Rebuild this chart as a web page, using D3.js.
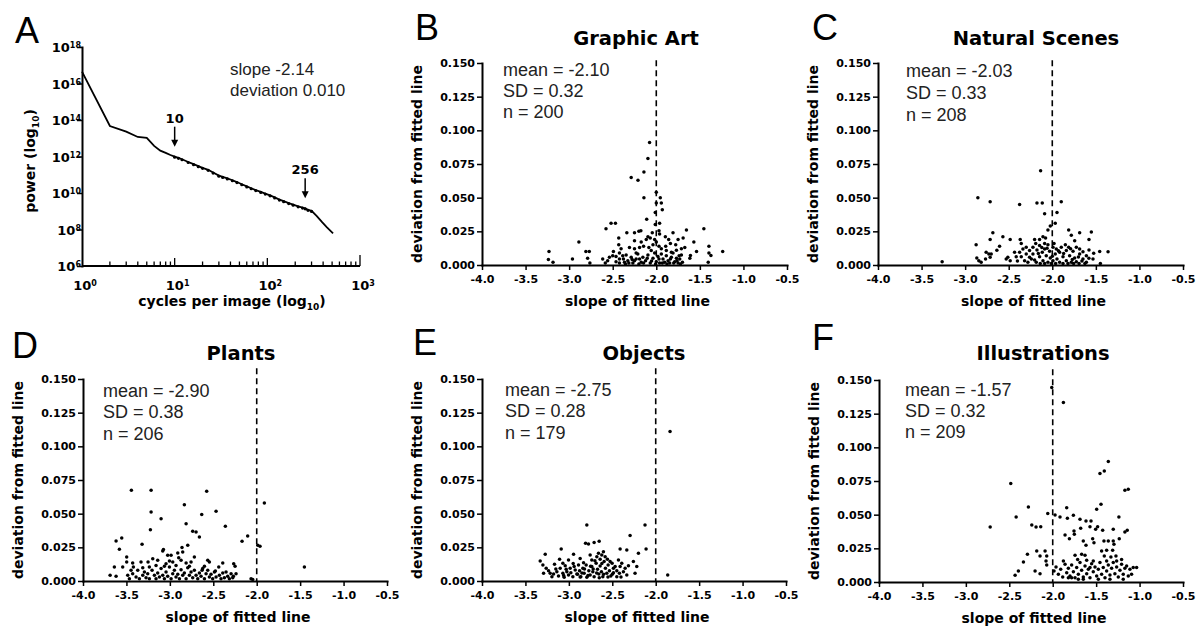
<!DOCTYPE html>
<html>
<head>
<meta charset="utf-8">
<script src="https://cdn.jsdelivr.net/npm/d3@7"></script>
<style>
  body { margin: 0; background: #fff; }
</style>
</head>
<body>
<svg id="fig" width="1199" height="628"></svg>
<script>
// ---- panel A: power spectrum, [cycles per image, log10 power]
const spectrum = [[1,16.65],[2,13.67],[3,13.36],[4,13.07],[5,13.02],[6,12.58],[7,12.32],[8,12.2],[9,12.08],
  [10,11.99],[11,11.93],[12,11.85],[14,11.7],[16,11.58],[18,11.47],[20,11.38],[23,11.27],[26,11.12],[30,10.95],
  [33,10.88],[37,10.8],[42,10.7],[47,10.6],[53,10.48],[60,10.36],[67,10.26],[75,10.16],[85,10.06],[95,9.97],
  [107,9.87],[120,9.76],[135,9.64],[150,9.55],[170,9.45],[190,9.36],[215,9.27],[240,9.2],[256,9.16],[275,9.08],
  [300,9.02],[340,8.75],[390,8.4],[440,8.12],[512,7.79]];
const powerExponents = [6, 8, 10, 12, 14, 16, 18];
const freqExponents = [0, 1, 2, 3];
const fitSlope = -2.14;
const fitDeviation = 0.010;
const markedFreqs = [10, 256];

// ---- panels B-F: [slope of fitted line, deviation from fitted line]
const panelNames = ['Graphic Art', 'Natural Scenes', 'Plants', 'Objects', 'Illustrations'];
const means = [-2.10, -2.03, -2.90, -2.75, -1.57];
const sds = [0.32, 0.33, 0.38, 0.28, 0.32];
const counts = [200, 208, 206, 179, 209];
const slopeTicks = [-4.0, -3.5, -3.0, -2.5, -2.0, -1.5, -1.0, -0.5];
const devTicks = [0, 0.025, 0.05, 0.075, 0.1, 0.125, 0.15];

const graphicArt = [
  [-2.077,0.091],[-2.096,0.079],[-2.142,0.069],[-2.288,0.065],[-2.210,0.063],[-2.142,0.050],[-1.954,0.050],
  [-1.942,0.046],[-1.931,0.041],[-2.000,0.054],[-2.000,0.046],[-2.012,0.039],[-2.110,0.034],[-2.012,0.030],
  [-1.962,0.031],[-2.577,0.027],[-2.519,0.031],[-2.469,0.031],[-2.338,0.024],[-2.250,0.024],[-2.200,0.025],
  [-2.177,0.0255],[-2.046,0.024],[-1.969,0.0255],[-1.962,0.023],[-1.896,0.021],[-1.808,0.024],[-1.654,0.026],
  [-1.454,0.027],[-2.431,0.020],[-2.096,0.021],[-2.019,0.019],[-1.858,0.019],[-1.750,0.019],[-1.692,0.020],
  [-1.569,0.017],[-2.888,0.017],[-2.250,0.018],[-2.173,0.017],[-2.115,0.019],[-2.069,0.020],[-2.431,0.015],
  [-2.404,0.012],[-2.492,0.010],[-2.423,0.009],[-2.308,0.013],[-2.250,0.012],[-2.192,0.013],[-2.146,0.014],
  [-2.085,0.013],[-2.038,0.015],[-2.000,0.017],[-1.969,0.014],[-1.942,0.012],[-1.892,0.014],[-1.838,0.016],
  [-1.777,0.015],[-1.769,0.011],[-1.712,0.012],[-1.673,0.013],[-1.608,0.007],[-1.615,0.005],[-1.538,0.010],
  [-2.808,0.010],[-2.769,0.010],[-3.231,0.010],[-1.396,0.014],[-1.396,0.009],[-1.373,0.007],[-1.238,0.010],
  [-1.404,0.002],[-3.238,0.004],[-3.185,0.002],[-2.962,0.0045],[-2.788,0.005],[-2.762,0.0015],[-2.615,0.0045],
  [-2.585,0.0015],[-2.538,0.0057],[-2.500,0.0069],[-2.558,0.0032],[-2.462,0.0025],[-2.423,0.0045],[-2.385,0.0069],
  [-2.365,0.002],[-2.327,0.0032],[-2.288,0.0057],[-2.269,0.0015],[-2.231,0.0045],[-2.212,0.0082],[-2.173,0.002],
  [-2.154,0.0057],[-2.123,0.0032],[-2.096,0.0074],[-2.069,0.0015],[-2.038,0.005],[-2.019,0.0089],[-2.000,0.0025],
  [-1.981,0.0064],[-1.962,0.0015],[-1.942,0.0082],[-1.923,0.0045],[-1.904,0.002],[-1.885,0.0069],[-1.865,0.0032],
  [-1.846,0.0015],[-1.827,0.0057],[-1.808,0.0089],[-1.788,0.0025],[-1.769,0.005],[-1.750,0.0015],[-1.731,0.0045],
  [-1.712,0.0074],[-1.700,0.002],[-2.231,0.0089],[-2.346,0.0074],[-2.462,0.0064],[-2.058,0.0107],[-1.885,0.0107],
  [-1.827,0.0094],[-2.377,0.0045],[-2.315,0.0015],[-2.250,0.0032],[-2.200,0.0007],[-2.146,0.0015],[-2.104,0.005],
  [-2.054,0.003],[-2.008,0.0007],[-1.969,0.0045],[-1.931,0.0015],[-1.877,0.0007],[-1.838,0.0045],[-1.800,0.0015],
  [-1.762,0.0032],[-1.723,0.0007],[-1.738,0.0069],[-2.192,0.0045],[-2.277,0.004],[-2.354,0.0007],[-2.423,0.0015]
];

const naturalScenes = [
  [-2.134,0.070],[-2.854,0.050],[-2.713,0.047],[-2.375,0.045],[-2.176,0.046],[-2.115,0.046],[-1.897,0.047],
  [-2.088,0.038],[-1.946,0.039],[-1.966,0.031],[-2.023,0.029],[-2.050,0.026],[-2.682,0.024],[-1.812,0.026],
  [-1.686,0.024],[-1.552,0.0245],[-2.567,0.021],[-2.713,0.019],[-2.483,0.019],[-2.368,0.019],[-2.356,0.016],
  [-2.203,0.019],[-2.146,0.019],[-2.107,0.021],[-2.077,0.020],[-2.088,0.016],[-1.782,0.022],[-1.743,0.018],
  [-1.579,0.019],[-2.874,0.015],[-2.605,0.014],[-2.636,0.011],[-2.759,0.0094],[-2.728,0.0082],[-2.701,0.0082],
  [-2.866,0.0052],[-2.843,0.0032],[-2.816,0.002],[-2.766,0.0045],[-2.713,0.0057],[-3.264,0.0025],[-1.456,0.010],
  [-1.360,0.0099],[-1.448,0.0012],[-1.525,0.0087],[-1.533,0.0045],[-2.529,0.0045],[-2.510,0.0057],[-2.483,0.0032],
  [-2.414,0.0062],[-2.375,0.0094],[-2.337,0.0119],[-2.299,0.0082],[-2.299,0.0131],[-2.261,0.0107],[-2.261,0.0057],
  [-2.222,0.0131],[-2.222,0.0082],[-2.203,0.0037],[-2.176,0.0111],[-2.146,0.0144],[-2.146,0.0062],[-2.115,0.0094],
  [-2.107,0.0032],[-2.088,0.0119],[-2.069,0.0069],[-2.050,0.002],[-2.031,0.0102],[-2.023,0.0052],[-1.992,0.0131],
  [-1.992,0.0032],[-1.966,0.0082],[-1.954,0.0119],[-1.946,0.0045],[-1.916,0.0094],[-1.916,0.002],[-1.897,0.0131],
  [-1.877,0.0062],[-1.839,0.0107],[-1.839,0.0032],[-1.812,0.0131],[-1.801,0.0069],[-1.782,0.002],[-1.762,0.0102],
  [-1.743,0.0052],[-1.724,0.0131],[-1.724,0.0025],[-1.686,0.0082],[-1.686,0.0119],[-1.648,0.0045],[-1.648,0.0099],
  [-1.609,0.0069],[-1.609,0.002],[-1.579,0.0111],[-2.184,0.002],[-2.138,0.0012],[-2.088,0.0012],[-2.011,0.0012],
  [-1.962,0.0012],[-1.877,0.0012],[-1.820,0.0012],[-1.755,0.0012],[-1.693,0.0012],[-1.626,0.0012],[-2.318,0.0032],
  [-2.356,0.0062],[-2.433,0.0094],[-2.24,0.0045],[-2.16,0.0085],[-2.06,0.0125],[-2.00,0.0065],[-1.93,0.0105],
  [-1.87,0.0085],[-1.79,0.0120],[-1.77,0.0040],[-1.70,0.0060],[-1.66,0.0030],[-1.98,0.0160],[-2.05,0.0150],
  [-2.12,0.0130],[-1.85,0.0150],[-2.28,0.0020],[-2.40,0.0030],[-1.58,0.0050],[-2.19,0.0160]
];

const plants = [
  [-3.443,0.0674],[-3.216,0.0674],[-2.576,0.0666],[-3.216,0.0513],[-2.833,0.0567],[-3.101,0.0463],[-2.633,0.0493],
  [-2.468,0.0518],[-1.912,0.058],[-2.813,0.0426],[-2.361,0.0406],[-2.737,0.0369],[-2.698,0.0364],[-2.660,0.0327],
  [-3.224,0.0381],[-3.619,0.0297],[-3.554,0.032],[-3.581,0.0235],[-3.320,0.0272],[-2.794,0.0265],[-2.169,0.0295],
  [-2.104,0.0334],[-1.988,0.0265],[-1.962,0.0258],[-1.451,0.0104],[-3.082,0.0223],[-3.074,0.0233],[-2.852,0.0215],
  [-2.909,0.0208],[-2.860,0.0248],[-2.898,0.0173],[-3.497,0.0178],[-3.497,0.0141],[-3.543,0.0104],[-3.639,0.0104],
  [-3.619,0.0035],[-3.688,0.0042],[-3.428,0.0134],[-3.420,0.0104],[-3.332,0.0141],[-3.251,0.0141],[-3.197,0.0166],
  [-2.986,0.0191],[-3.005,0.0149],[-3.063,0.0109],[-2.718,0.0178],[-2.756,0.0141],[-2.775,0.0109],[-2.564,0.0154],
  [-2.545,0.0141],[-2.602,0.0109],[-2.629,0.0079],[-2.391,0.0134],[-2.437,0.0104],[-2.476,0.0074],[-2.353,0.0067],
  [-2.265,0.0129],[-2.249,0.0109],[-2.238,0.0054],[-2.269,0.0035],[-2.065,0.0017],[-2.046,0.0012],
  [-3.485,0.0042],[-3.466,0.0017],[-3.428,0.0054],[-3.389,0.0030],[-3.351,0.0017],[-3.312,0.0042],[-3.293,0.0067],
  [-3.274,0.0025],[-3.255,0.0054],[-3.236,0.0017],[-3.205,0.0079],[-3.178,0.0042],[-3.159,0.0017],[-3.140,0.0059],
  [-3.120,0.0030],[-3.101,0.0092],[-3.082,0.0042],[-3.063,0.0017],[-3.044,0.0067],[-3.025,0.0035],[-3.005,0.0104],
  [-2.986,0.0017],[-2.967,0.0054],[-2.948,0.0079],[-2.929,0.0030],[-2.909,0.0050],[-2.890,0.0017],[-2.871,0.0084],
  [-2.852,0.0042],[-2.833,0.0059],[-2.813,0.0017],[-2.794,0.0099],[-2.775,0.0042],[-2.756,0.0067],[-2.737,0.0025],
  [-2.718,0.0079],[-2.698,0.0042],[-2.679,0.0017],[-2.660,0.0059],[-2.641,0.0035],[-2.622,0.0092],[-2.602,0.0017],
  [-2.583,0.0054],[-2.564,0.0079],[-2.545,0.0030],[-2.526,0.0050],[-2.507,0.0017],[-2.487,0.0067],[-2.468,0.0030],
  [-2.430,0.0042],[-2.411,0.0017],[-2.391,0.0059],[-2.372,0.0025],[-2.334,0.0035],[-2.315,0.0017],[-2.295,0.0054],
  [-2.276,0.0025],[-3.236,0.0104],[-3.159,0.0116],[-3.044,0.0129],[-2.929,0.0116],[-2.813,0.0134],[-2.967,0.0141],
  [-2.871,0.0154],[-3.025,0.0191],[-3.312,0.0099],[-3.370,0.0079],[-3.447,0.0079],[-3.140,0.0154]
];

const objects = [
  [-1.835,0.111],[-1.862,0.0045],[-2.793,0.0416],[-2.123,0.0416],[-2.295,0.0337],[-2.111,0.0238],[-2.808,0.028],
  [-2.774,0.0275],[-2.709,0.0285],[-2.651,0.0295],[-3.088,0.0238],[-3.272,0.0198],[-2.946,0.0198],[-2.410,0.0238],
  [-2.333,0.023],[-2.199,0.0206],[-3.330,0.0149],[-3.299,0.0119],[-3.261,0.0094],[-3.291,0.0057],[-3.215,0.0057],
  [-3.195,0.0032],[-3.165,0.0124],[-3.107,0.0161],[-3.042,0.0114],[-2.985,0.0094],[-3.023,0.0069],[-2.927,0.0082],
  [-2.889,0.0119],[-2.831,0.0136],[-2.755,0.0193],[-2.678,0.0181],[-2.621,0.0193],[-2.582,0.0181],[-2.556,0.0161],
  [-2.238,0.0057],[-2.218,0.0107],[-2.257,0.0144],[-2.314,0.0114],[-2.429,0.0156],[-2.487,0.0094],[-2.418,0.0057],
  [-2.448,0.0032],[-2.333,0.0045],[-3.234,0.0077],[-3.176,0.0052],[-3.138,0.0069],[-3.119,0.0037],[-3.100,0.0094],
  [-3.069,0.0057],[-3.054,0.0027],[-3.031,0.0087],[-3.004,0.0045],[-2.977,0.0062],[-2.954,0.0032],[-2.939,0.0107],
  [-2.908,0.0052],[-2.877,0.0077],[-2.862,0.0032],[-2.839,0.0094],[-2.824,0.0057],[-2.801,0.0119],[-2.793,0.0027],
  [-2.770,0.0077],[-2.755,0.0045],[-2.736,0.0107],[-2.724,0.0069],[-2.709,0.0032],[-2.686,0.0131],[-2.670,0.0087],
  [-2.655,0.0052],[-2.640,0.0111],[-2.625,0.0069],[-2.609,0.0032],[-2.594,0.0144],[-2.579,0.0094],[-2.563,0.0057],
  [-2.548,0.0119],[-2.533,0.0077],[-2.517,0.0037],[-2.502,0.0131],[-2.487,0.0062],[-2.467,0.0107],[-2.448,0.0077],
  [-2.410,0.0107],[-2.391,0.0131],[-2.372,0.0069],[-2.352,0.0094],[-3.069,0.0131],[-3.004,0.0156],[-2.870,0.0168],
  [-2.736,0.0156],[-2.640,0.0161],[-2.525,0.0144],[-2.659,0.0206],[-2.602,0.0218],[-2.90,0.0050],[-2.85,0.0060],
  [-2.78,0.0040],[-2.72,0.0090],[-2.68,0.0060],[-2.60,0.0050],[-2.55,0.0030],[-2.75,0.0110],[-2.95,0.0130],
  [-3.06,0.0040],[-2.82,0.0090],[-2.62,0.0130],[-2.70,0.0150],[-2.50,0.0050],[-2.40,0.0030],[-3.15,0.0090],
  [-2.87,0.0030],[-2.65,0.0025]
];

const illustrations = [
  [-2.011,0.1444],[-1.877,0.1333],[-1.360,0.0894],[-1.406,0.0825],[-1.456,0.0805],[-1.169,0.0681],[-1.130,0.0689],
  [-2.483,0.0731],[-2.720,0.0409],[-2.280,0.0557],[-2.421,0.0483],[-2.057,0.0508],[-1.973,0.0498],[-1.916,0.0483],
  [-1.839,0.0552],[-1.762,0.0495],[-1.831,0.0473],[-1.686,0.0466],[-1.617,0.0453],[-1.559,0.0453],[-1.444,0.0577],
  [-1.494,0.0540],[-1.238,0.0483],[-2.241,0.0424],[-2.192,0.0409],[-2.138,0.0411],[-1.858,0.0349],[-1.808,0.0322],
  [-1.755,0.0379],[-1.751,0.0354],[-1.678,0.0399],[-1.571,0.0411],[-1.506,0.0391],[-1.483,0.0411],[-1.425,0.0384],
  [-1.303,0.0391],[-1.169,0.0372],[-1.142,0.0384],[-1.234,0.0322],[-1.303,0.0305],[-1.295,0.0280],[-1.410,0.0305],
  [-1.360,0.0305],[-1.648,0.0305],[-1.617,0.0272],[-1.540,0.0322],[-1.525,0.0292],[-1.667,0.0206],[-1.628,0.0198],
  [-1.743,0.0198],[-1.713,0.0168],[-1.609,0.0161],[-1.437,0.0230],[-1.379,0.0235],[-1.310,0.0235],[-1.406,0.0193],
  [-1.330,0.0186],[-1.272,0.0193],[-2.291,0.0206],[-2.184,0.0230],[-2.337,0.0149],[-2.395,0.0082],[-2.433,0.0050],
  [-2.088,0.0230],[-2.069,0.0193],[-2.077,0.0156],[-2.069,0.0126],[-2.146,0.0193],[-2.203,0.0082],[-2.146,0.0062],
  [-1.985,0.0082],[-1.962,0.0111],[-1.935,0.0057],[-1.908,0.0094],[-1.885,0.0037],[-1.858,0.0131],[-1.839,0.0069],
  [-1.820,0.0102],[-1.801,0.0045],[-1.782,0.0126],[-1.762,0.0077],[-1.743,0.0032],[-1.724,0.0107],[-1.705,0.0057],
  [-1.686,0.0144],[-1.667,0.0087],[-1.648,0.0037],[-1.628,0.0119],[-1.609,0.0062],[-1.590,0.0094],[-1.571,0.0032],
  [-1.552,0.0136],[-1.533,0.0077],[-1.513,0.0111],[-1.494,0.0045],[-1.475,0.0094],[-1.456,0.0144],[-1.437,0.0057],
  [-1.418,0.0107],[-1.398,0.0032],[-1.379,0.0082],[-1.360,0.0126],[-1.341,0.0052],[-1.322,0.0102],[-1.303,0.0144],
  [-1.284,0.0062],[-1.264,0.0111],[-1.245,0.0037],[-1.226,0.0087],[-1.207,0.0131],[-1.188,0.0057],[-1.169,0.0102],
  [-1.149,0.0119],[-1.130,0.0045],[-1.111,0.0094],[-1.092,0.0057],[-1.073,0.0107],[-1.034,0.0107],[-1.533,0.0156],
  [-1.379,0.0156],[-1.264,0.0156],[-1.207,0.0168],[-1.877,0.0156],[-1.782,0.0032],[-1.571,0.0107],[-1.475,0.0020],
  [-1.341,0.0020],[-1.648,0.0020],[-1.705,0.0020],[-1.188,0.0020],[-1.820,0.0032]
];

const scatterData = [graphicArt, naturalScenes, plants, objects, illustrations];

// panel placement on the page
const layout = [
  { left: 482, right: 787, top: 63, bottom: 265, dashTop: 0.152, letter: 'B', lx: 415, ly: 40, tx: 636, ty: 45, sx: 503, sy: [76, 97, 118] },
  { left: 878, right: 1183, top: 63, bottom: 265, dashTop: 0.152, letter: 'C', lx: 812, ly: 40, tx: 1036, ty: 45, sx: 906, sy: [77, 99, 121] },
  { left: 83, right: 387, top: 379, bottom: 581, dashTop: 0.158, letter: 'D', lx: 12, ly: 358, tx: 241, ty: 360, sx: 103, sy: [397, 418, 440] },
  { left: 482, right: 786, top: 379, bottom: 581, dashTop: 0.158, letter: 'E', lx: 413, ly: 355, tx: 644, ty: 360, sx: 505, sy: [396, 417, 439] },
  { left: 879, right: 1183, top: 380, bottom: 582, dashTop: 0.158, letter: 'F', lx: 812, ly: 350, tx: 1043, ty: 360, sx: 905, sy: [396, 417, 438] }
];

const boldFont = '"DejaVu Sans", sans-serif';
const plainFont = '"Liberation Sans", Arial, sans-serif';

const svg = d3.select('#fig');
svg.append('rect').attr('width', 1199).attr('height', 628).attr('fill', '#fff');

function letter(x, y, s) {
  svg.append('text').attr('x', x).attr('y', y).text(s)
    .attr('fill', '#000')
    .style('font-family', plainFont).style('font-size', '36px');
}

function boldText(g, s, size) {
  return g.append('text').text(s).attr('fill', '#000')
    .style('font-family', boldFont).style('font-weight', 'bold').style('font-size', size + 'px');
}

// ---------------- panel A ----------------
function renderSpectrum() {
  const x = d3.scaleLog().domain([1, 1000]).range([82, 360]);
  const y = d3.scaleLog().domain([1e6, 1e18]).range([266, 47]);
  const g = svg.append('g');

  // y axis
  const yAxis = d3.axisLeft(y)
    .tickValues(powerExponents.map(e => Math.pow(10, e)))
    .tickFormat('')
    .tickSize(5)
    .tickSizeOuter(0);
  const yg = g.append('g').attr('transform', 'translate(82,0)').call(yAxis);
  yg.select('.domain').attr('stroke-width', 2).attr('stroke-linecap', 'square');
  yg.selectAll('.tick line').attr('stroke-width', 1.5);
  yg.selectAll('.tick').each(function(d) {
    const t = d3.select(this).append('text')
      .attr('x', -1).attr('dy', '0.35em').attr('text-anchor', 'end').attr('fill', '#000')
      .style('font-family', boldFont).style('font-weight', 'bold').style('font-size', '13px');
    t.append('tspan').text('10');
    t.append('tspan').attr('dy', '-0.5em').style('font-size', '8px').text(Math.round(Math.log10(d)));
  });

  // x axis (ticks point inward)
  g.append('line').attr('x1', 82).attr('x2', 360).attr('y1', 266).attr('y2', 266)
    .attr('stroke', '#000').attr('stroke-width', 2);
  const ticks = x.ticks().filter(t => t > 1);
  g.selectAll('.xt').data(ticks).join('line')
    .attr('class', 'xt')
    .attr('x1', d => x(d)).attr('x2', d => x(d))
    .attr('y1', 266)
    .attr('y2', d => {
      const e = Math.log10(d);
      if (d === 1000) return 255;
      return Math.abs(e - Math.round(e)) < 1e-9 ? 258 : 261.5;
    })
    .attr('stroke', '#000').attr('stroke-width', 1.3);
  freqExponents.forEach(e => {
    const t = g.append('text').attr('x', x(Math.pow(10, e)) + 3).attr('y', 290)
      .attr('text-anchor', 'middle').attr('fill', '#000')
      .style('font-family', boldFont).style('font-weight', 'bold').style('font-size', '13px');
    t.append('tspan').text('10');
    t.append('tspan').attr('dy', '-0.5em').style('font-size', '8px').text(e);
  });

  // spectrum line and the fitted-range points
  const line = d3.line().x(d => x(d[0])).y(d => y(Math.pow(10, d[1])));
  g.append('path').datum(spectrum).attr('d', line)
    .attr('fill', 'none').attr('stroke', '#000').attr('stroke-width', 1.8);
  g.selectAll('.sp').data(spectrum.filter(d => d[0] >= 10 && d[0] <= 300)).join('circle')
    .attr('class', 'sp')
    .attr('cx', d => x(d[0])).attr('cy', d => y(Math.pow(10, d[1])) + 0.5)
    .attr('r', 1.6).attr('fill', '#000');

  // arrows at the fit limits
  markedFreqs.forEach(f => {
    const p = spectrum.find(d => d[0] === f);
    const tipY = y(Math.pow(10, p[1])) - 10;
    const cx = x(f);
    g.append('line').attr('x1', cx).attr('x2', cx).attr('y1', tipY - 20).attr('y2', tipY - 5)
      .attr('stroke', '#000').attr('stroke-width', 1.5);
    g.append('path').attr('d', `M${cx - 3.5},${tipY - 7}L${cx + 3.5},${tipY - 7}L${cx},${tipY}Z`).attr('fill', '#000');
    boldText(g, String(f), 13).attr('x', cx).attr('y', tipY - 24).attr('text-anchor', 'middle');
  });

  // fit summary
  g.append('text').attr('x', 230).attr('y', 75).text('slope ' + fitSlope.toFixed(2))
    .attr('fill', '#222').style('font-family', plainFont).style('font-size', '17px');
  g.append('text').attr('x', 230).attr('y', 96).text('deviation ' + fitDeviation.toFixed(3))
    .attr('fill', '#222').style('font-family', plainFont).style('font-size', '17px');

  // axis titles
  const xt = boldText(g, '', 14).attr('x', 232).attr('y', 306).attr('text-anchor', 'middle');
  xt.append('tspan').text('cycles per image (log');
  xt.append('tspan').attr('dy', 4).style('font-size', '9px').text('10');
  xt.append('tspan').attr('dy', -4).text(')');
  const yt = boldText(g, '', 14).attr('text-anchor', 'middle')
    .attr('transform', 'translate(35,161) rotate(-90)');
  yt.append('tspan').text('power (log');
  yt.append('tspan').attr('dy', 4).style('font-size', '9px').text('10');
  yt.append('tspan').attr('dy', -4).text(')');

  letter(15, 43, 'A');
}

// ---------------- panels B-F ----------------
function renderScatter(cfg, pts, i) {
  const x = d3.scaleLinear().domain([-4, -0.5]).range([cfg.left, cfg.right]);
  const y = d3.scaleLinear().domain([0, 0.15]).range([cfg.bottom, cfg.top]);
  const g = svg.append('g');

  // reference slope -2
  g.append('line')
    .attr('x1', x(-2)).attr('x2', x(-2))
    .attr('y1', y(cfg.dashTop)).attr('y2', y(0))
    .attr('stroke', '#000').attr('stroke-width', 1.6)
    .attr('stroke-dasharray', '6,4');

  const xAxis = d3.axisBottom(x).tickValues(slopeTicks).tickFormat(d => d.toFixed(1))
    .tickSize(5).tickPadding(5).tickSizeOuter(0);
  const yAxis = d3.axisLeft(y).tickValues(devTicks).tickFormat(d => d.toFixed(3))
    .tickSize(5).tickPadding(2).tickSizeOuter(0);
  g.append('g').attr('transform', `translate(0,${cfg.bottom})`).call(xAxis);
  g.append('g').attr('transform', `translate(${cfg.left},0)`).call(yAxis);
  g.selectAll('.domain').attr('stroke-width', 2).attr('stroke-linecap', 'square');
  g.selectAll('.tick line').attr('stroke-width', 1.5);
  g.selectAll('.tick text').attr('fill', '#000')
    .style('font-family', boldFont).style('font-weight', 'bold').style('font-size', '11px');

  g.selectAll('circle').data(pts).join('circle')
    .attr('cx', d => x(d[0])).attr('cy', d => y(d[1]))
    .attr('r', 1.75).attr('fill', '#000');

  // labels
  boldText(g, panelNames[i], 19.5).attr('x', cfg.tx).attr('y', cfg.ty).attr('text-anchor', 'middle');
  boldText(g, 'slope of fitted line', 14)
    .attr('x', (cfg.left + cfg.right) / 2 + 3).attr('y', cfg.bottom + 41).attr('text-anchor', 'middle');
  boldText(g, 'deviation from fitted line', 14).attr('text-anchor', 'middle')
    .attr('transform', `translate(${cfg.left - 60},${(cfg.top + cfg.bottom) / 2}) rotate(-90)`);

  const stats = ['mean = ' + means[i].toFixed(2), 'SD = ' + sds[i].toFixed(2), 'n = ' + counts[i]];
  stats.forEach((s, k) => {
    g.append('text').attr('x', cfg.sx).attr('y', cfg.sy[k]).text(s)
      .attr('fill', '#222').style('font-family', plainFont).style('font-size', '18px');
  });

  letter(cfg.lx, cfg.ly, cfg.letter);
}

renderSpectrum();
layout.forEach((cfg, i) => renderScatter(cfg, scatterData[i], i));
</script>
</body>
</html>
